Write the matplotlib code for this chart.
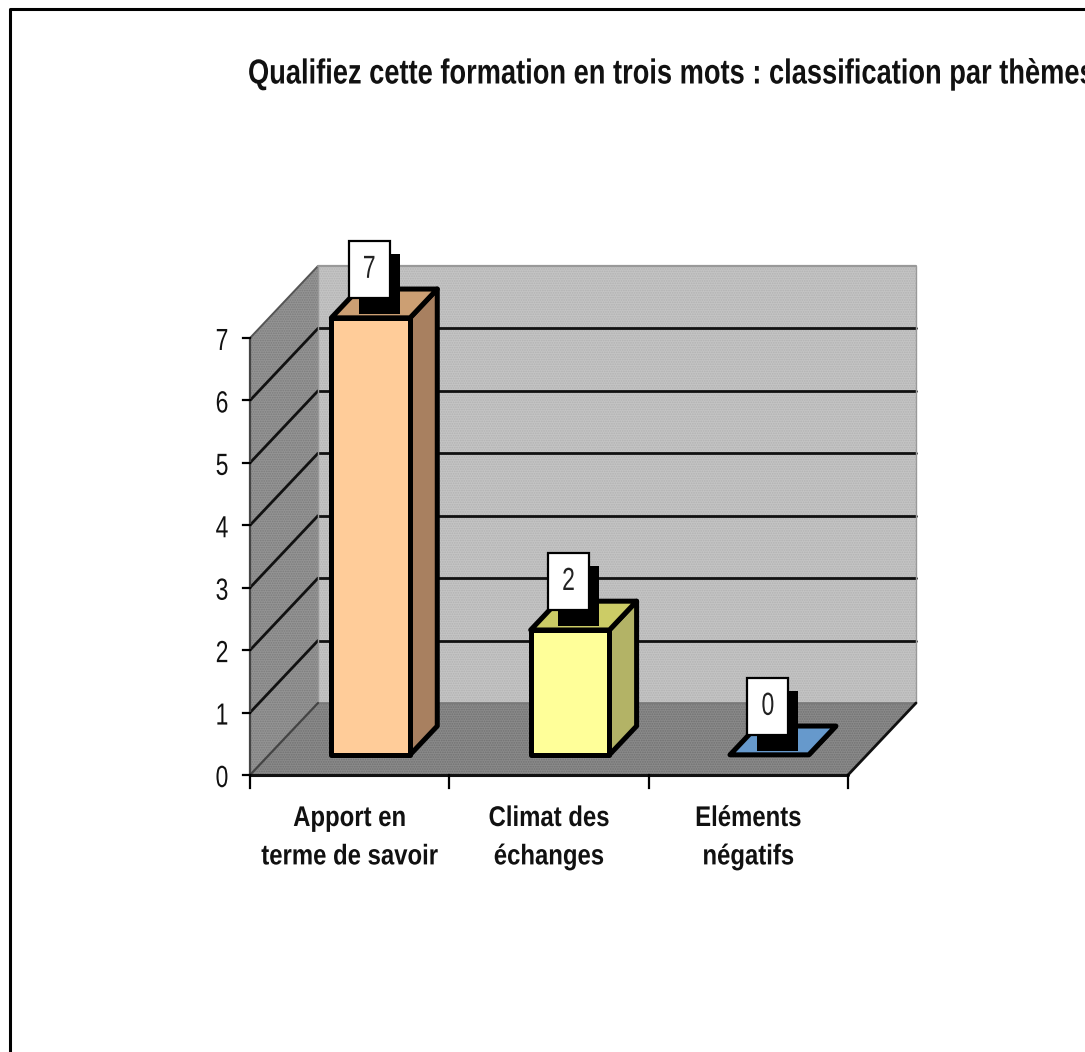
import matplotlib
matplotlib.use("Agg")
import matplotlib.pyplot as plt
from matplotlib.patches import Polygon, Rectangle
from matplotlib.patheffects import AbstractPathEffect
from matplotlib.transforms import Affine2D

categories = ["Apport en\nterme de savoir", "Climat des\néchanges", "Eléments\nnégatifs"]
values = [7, 2, 0]
front_colors = ["#FFCC99", "#FFFF99", "#99CCFF"]
top_colors = ["#CC9F73", "#CCCC66", "#6699CC"]
side_colors = ["#A88060", "#B3B366", "#6699CC"]
yticks = list(range(0, 8))
title = "Qualifiez cette formation en trois mots : classification par thèmes"

W, H = 1085, 1052
plt.rcParams['font.family'] = ['Liberation Sans', 'DejaVu Sans']
plt.rcParams['hatch.linewidth'] = 0.8
fig = plt.figure(figsize=(W/100, H/100), dpi=100, facecolor="white")


class Condense(AbstractPathEffect):
    """Narrow a text horizontally about its anchor (no condensed font is installed)."""
    def __init__(self, text, sx):
        super().__init__()
        self.text, self.sx = text, sx

    def draw_path(self, renderer, gc, tpath, affine, rgbFace=None):
        cx = self.text.get_transform().transform(self.text.get_position())[0]
        squeeze = Affine2D().translate(-cx, 0).scale(self.sx, 1).translate(cx, 0)
        renderer.draw_path(gc, tpath, affine + squeeze, rgbFace)


def narrow(t, sx):
    t.set_path_effects([Condense(t, sx)])
    return t


L, R, Y0, Y7 = 250, 848, 775, 338
ax = fig.add_axes([L/W, 1-Y0/H, (R-L)/W, (Y0-Y7)/H])
ax.set_xlim(0, 3)
ax.set_ylim(0, 7)
ax.axis("off")
PX = (R-L)/3
PY = (Y0-Y7)/7
DX = 68/PX
DY = 72/PY


def P(x, v, d):
    return (x + d*DX, v + d*DY)


def poly(pts, fc, lw=0, z=1, hatch=None, hc=None):
    if hatch:
        ax.add_patch(Polygon(pts, closed=True, facecolor=fc, edgecolor=hc, hatch=hatch,
                             linewidth=0, clip_on=False, zorder=z))
    else:
        ax.add_patch(Polygon(pts, closed=True, facecolor=fc, edgecolor="black" if lw else "none",
                             linewidth=lw, joinstyle="round", clip_on=False, zorder=z))


def line(a, b, lw=2.0, z=2, c="#111111"):
    ax.plot([a[0], b[0]], [a[1], b[1]], color=c, lw=lw, clip_on=False, zorder=z, solid_capstyle="round")


top = yticks[-1]
poly([P(0, 0, 1), P(3, 0, 1), P(3, top, 1), P(0, top, 1)], "#C4C4C4", hatch=".......", hc="#B2B2B2")
poly([P(0, 0, 0), P(0, 0, 1), P(0, top, 1), P(0, top, 0)], "#949494", hatch=".......", hc="#7C7C7C")
poly([P(0, 0, 0), P(3, 0, 0), P(3, 0, 1), P(0, 0, 1)], "#8A8A8A", hatch=".......", hc="#717171")

for v in yticks[1:-1]:
    line(P(0, v, 0), P(0, v, 1))
    line(P(0, v, 1), P(3, v, 1))
line(P(0, top, 0), P(0, top, 1), lw=1.4, c="#555555")
line(P(0, top, 1), P(3, top, 1), lw=1.6, c="#999999")
line(P(3, 0, 1), P(3, top, 1), lw=1.0, c="#999999")
line(P(0, 0, 1), P(0, top, 1), lw=1.0, c="#999999")
line(P(0, 0, 1), P(3, 0, 1), lw=1.2, c="#777777")
line(P(0, 0, 0), P(0, top, 0), lw=1.6, c="#444444")
line(P(0, 0, 0), P(0, 0, 1), lw=1.6, c="#444444")
line(P(3, 0, 0), P(3, 0, 1), lw=2.0)
line(P(0, 0, 0), P(3, 0, 0), lw=2.2)

for v in yticks:
    ax.plot([0, -7/PX], [v, v], color="black", lw=1.6, clip_on=False)
    narrow(ax.text(-28/PX, v - 4/PY, str(v), ha="center", va="center", fontsize=22, color="#111111"), 0.75)
for i in range(len(categories)+1):
    ax.plot([i, i], [0, -13/PY], color="black", lw=1.6, clip_on=False)

D0, D1, BW = 0.28, 0.68, 0.395
for i, (cat, val) in enumerate(zip(categories, values)):
    c = i + 0.51
    l, r = c - BW/2, c + BW/2
    z = 5 + i
    poly([P(r, 0, D0), P(r, 0, D1), P(r, val, D1), P(r, val, D0)], side_colors[i], 3.6, z)
    poly([P(l, val, D0), P(r, val, D0), P(r, val, D1), P(l, val, D1)], top_colors[i], 3.6, z)
    if val > 0:
        poly([P(l, 0, D0), P(r, 0, D0), P(r, val, D0), P(l, val, D0)], front_colors[i], 3.6, z)
    narrow(ax.text(i + 0.5, -(806-Y0)/PY, cat, ha="center", va="top", fontsize=20.5,
                   linespacing=1.62, color="#111111", clip_on=False, fontweight="bold"), 0.84)

fig.canvas.draw()
for i, val in enumerate(values):
    ax_pt = ax.transData.transform(P(i + 0.5, val, D0))
    tr = Affine2D().translate(*ax_pt)
    z = 20 + i
    ax.add_patch(Rectangle((-10, 51-28.5-19), 41, 60, transform=tr, facecolor="black",
                           edgecolor="black", lw=0, clip_on=False, zorder=z))
    ax.add_patch(Rectangle((-20, 51-28.5-3), 41, 57, transform=tr, facecolor="white",
                           edgecolor="black", lw=1.6, clip_on=False, zorder=z+0.1))
    narrow(ax.text(0.5, 48, str(val), transform=tr, ha="center", va="center", fontsize=23,
                   color="#222222", clip_on=False, zorder=z+0.2), 0.72)

fig.add_artist(plt.Line2D([9.5/W, 9.5/W, 1], [0, 1-8.5/H, 1-8.5/H], color="black", lw=2.2))
narrow(fig.text(248/W, 1-74/H, title, ha="left", va="center", fontsize=25, color="#111111",
                fontweight="bold"), 0.785)

fig.savefig("out.png", dpi=100)
